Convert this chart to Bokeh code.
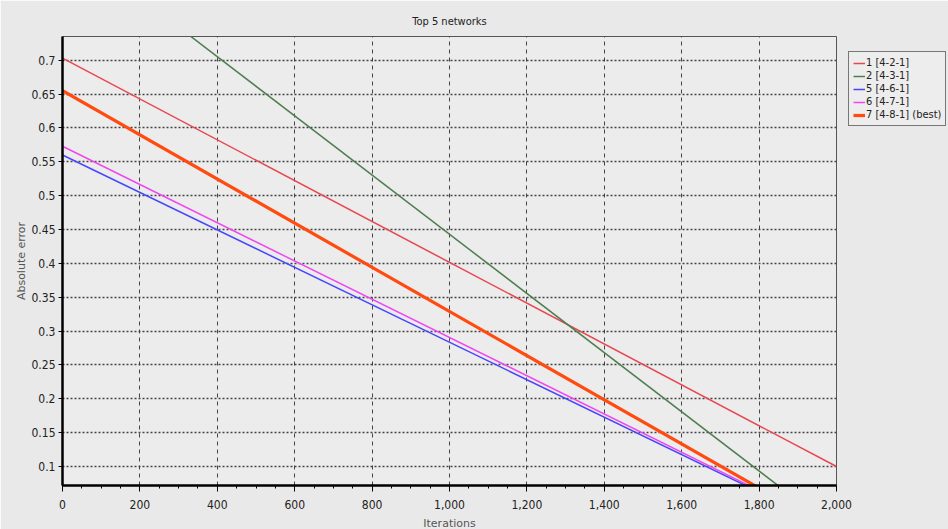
from bokeh.plotting import figure
from bokeh.models import (Range1d, FixedTicker, NumeralTickFormatter, Legend, LegendItem, ColumnDataSource)
from bokeh.embed import file_html
from bokeh.resources import INLINE

# Data (straight lines: value at start and end iteration)
iterations = [0, 2000]
net_labels = ["1 [4-2-1]", "2 [4-3-1]", "5 [4-6-1]", "6 [4-7-1]", "7 [4-8-1] (best)"]
err_1 = [0.703, 0.100]
err_2 = [0.880, 0.006]
err_5 = [0.560, 0.007]
err_6 = [0.573, 0.008]
err_7 = [0.655, 0.003]
y_ticks = [0.1, 0.15, 0.2, 0.25, 0.3, 0.35, 0.4, 0.45, 0.5, 0.55, 0.6, 0.65, 0.7]
x_ticks = [0, 200, 400, 600, 800, 1000, 1200, 1400, 1600, 1800, 2000]

series = [err_1, err_2, err_5, err_6, err_7]
colors = ["#e8474f", "#4f7d4f", "#4646ff", "#f046f0", "#ff4a10"]
widths = [1.5, 1.5, 1.5, 1.5, 3.2]

BG = "#e9e9e9"
FONT = "'DejaVu Sans Condensed', 'Liberation Sans', sans-serif"

p = figure(frame_width=774, frame_height=449, output_backend="svg", toolbar_location=None,
           x_range=Range1d(0, 2000), y_range=Range1d(0.072, 0.735),
           title="Top 5 networks",
           min_border_left=62, min_border_right=112, min_border_top=36, min_border_bottom=44,
           background_fill_color="#ececec", border_fill_color=BG)

p.title.align = "center"
p.title.text_font = FONT
p.title.text_font_size = "11px"
p.title.text_font_style = "normal"
p.title.text_color = "#222222"
p.title.offset = 0
p.title.standoff = 18

p.outline_line_color = "#555555"
p.outline_line_width = 1

items = []
for lab, ys, c, w in zip(net_labels, series, colors, widths):
    src = ColumnDataSource(dict(x=iterations, y=ys))
    r = p.line("x", "y", source=src, line_color=c, line_width=w)
    items.append(LegendItem(label=lab, renderers=[r]))

# axes
p.xaxis.ticker = FixedTicker(ticks=x_ticks, minor_ticks=list(range(0, 2001, 50)))
p.xaxis.formatter = NumeralTickFormatter(format="0,0")
p.yaxis.ticker = FixedTicker(ticks=y_ticks, minor_ticks=[])
p.yaxis.major_label_overrides = {t: ("%g" % t) for t in y_ticks}

for ax in (p.xaxis[0], p.yaxis[0]):
    ax.axis_line_color = "black"
    ax.axis_line_width = 2.5
    ax.major_tick_line_color = "black"
    ax.minor_tick_line_color = "black"
    ax.major_label_text_font = FONT
    ax.major_label_text_font_size = "12px"
    ax.major_label_text_color = "#222222"
    ax.axis_label_text_font = "DejaVu Sans"
    ax.axis_label_text_font_size = "11px"
    ax.axis_label_text_font_style = "normal"
    ax.axis_label_text_color = "#555555"

p.xaxis.major_tick_out = 6
p.xaxis.major_tick_in = 0
p.xaxis.minor_tick_out = 3
p.xaxis.minor_tick_in = 0
p.yaxis.major_tick_out = 4
p.yaxis.major_tick_in = 0
p.xaxis.axis_label = "Iterations"
p.yaxis.axis_label = "Absolute error"
p.xaxis.major_label_standoff = 8
p.yaxis.major_label_standoff = 3
p.xaxis.axis_label_standoff = 5
p.yaxis.axis_label_standoff = 0

p.xgrid.grid_line_color = "#444444"
p.xgrid.grid_line_dash = "4 4"
p.xgrid.grid_line_width = 1
p.ygrid.grid_line_color = "#444444"
p.ygrid.grid_line_dash = "2 2"
p.ygrid.grid_line_width = 1.5

legend = Legend(items=items, location=(12, 359))
legend.label_text_font = FONT
legend.label_text_font_size = "11px"
legend.label_text_color = "#222222"
legend.label_height = 12
legend.glyph_height = 12
legend.glyph_width = 12
legend.label_standoff = 1
legend.spacing = 0
legend.padding = 4
legend.margin = 0
legend.border_line_color = "black"
legend.border_line_width = 1
legend.background_fill_color = "#ededed"
legend.background_fill_alpha = 1
p.add_layout(legend, "right")

open("out.html", "w").write(file_html(p, INLINE))
